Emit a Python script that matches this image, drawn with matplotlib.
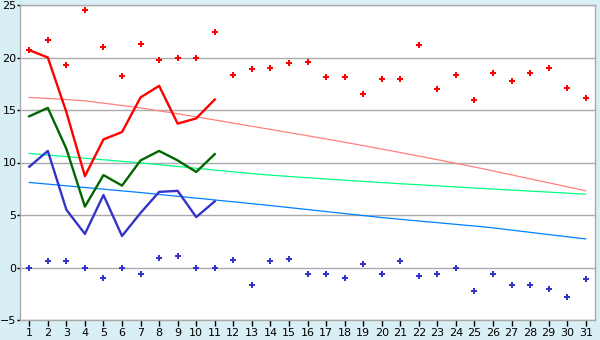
import matplotlib
matplotlib.use('Agg')
import matplotlib.pyplot as plt

days = list(range(1, 32))

# daily max / min (points)
max_points = [20.7, 21.7, 19.3, 24.5, 21.0, 18.2, 21.3, 19.8, 20.0, 20.0,
              22.4, 18.3, 18.9, 19.0, 19.5, 19.6, 18.1, 18.1, 16.5, 18.0,
              18.0, 21.2, 17.0, 18.3, 16.0, 18.5, 17.8, 18.5, 19.0, 17.1, 16.1]
min_points = [0.0, 0.6, 0.6, 0.0, -1.0, 0.0, -0.6, 0.9, 1.1, 0.0,
              0.0, 0.7, -1.7, 0.6, 0.8, -0.6, -0.6, -1.0, 0.3, -0.6,
              0.6, -0.8, -0.6, 0.0, -2.2, -0.6, -1.7, -1.7, -2.0, -2.8, -1.1]

# measured lines, first 11 days
line_days = list(range(1, 12))
max_line = [20.7, 20.0, 14.8, 8.7, 12.2, 12.9, 16.2, 17.3, 13.7, 14.2, 16.0]
mean_line = [14.4, 15.2, 11.3, 5.8, 8.8, 7.8, 10.2, 11.1, 10.2, 9.1, 10.8]
min_line = [9.6, 11.1, 5.5, 3.2, 6.9, 3.0, 5.2, 7.2, 7.3, 4.8, 6.3]

# normals
norm_max = [16.2, 16.1, 16.0, 15.87, 15.65, 15.43, 15.2, 14.92, 14.64, 14.35,
            14.05, 13.75, 13.45, 13.15, 12.85, 12.55, 12.24, 11.93, 11.61, 11.28,
            10.95, 10.61, 10.27, 9.92, 9.57, 9.2, 8.82, 8.44, 8.07, 7.69, 7.3]
norm_mean = [10.86, 10.71, 10.56, 10.41, 10.26, 10.11, 9.96, 9.79, 9.62, 9.45,
             9.28, 9.11, 8.94, 8.8, 8.67, 8.55, 8.43, 8.31, 8.2, 8.09,
             7.98, 7.88, 7.78, 7.67, 7.57, 7.47, 7.37, 7.28, 7.18, 7.08, 6.98]
norm_min = [8.1, 7.94, 7.78, 7.62, 7.46, 7.3, 7.14, 6.96, 6.78, 6.61,
            6.43, 6.26, 6.08, 5.9, 5.71, 5.52, 5.33, 5.14, 4.95, 4.76,
            4.59, 4.43, 4.27, 4.11, 3.95, 3.78, 3.56, 3.35, 3.14, 2.93, 2.72]

fig = plt.figure(figsize=(6, 3.4), dpi=100, facecolor='#d9eff6')
ax = fig.add_axes([20 / 600, 20 / 340, 575 / 600, 315 / 340])
ax.set_facecolor('white')

ax.set_xlim(0.5, 31.5)
ax.set_ylim(-5, 25)
ax.set_yticks(range(-5, 26, 5))
ax.set_xticks(days)
ax.grid(axis='y', color='#aaaaaa', linewidth=1)
ax.set_axisbelow(True)

for s in ax.spines.values():
    s.set_color('#aaaaaa')
    s.set_linewidth(1)

ax.tick_params(axis='x', labelsize=8, colors='#000000', length=4, width=1, pad=2)
ax.tick_params(axis='y', labelsize=8, colors='#000000', length=2, width=1, pad=0.5)

# normals
ax.plot(days, norm_max, color='#ff8080', linewidth=0.9)
ax.plot(days, norm_mean, color='#00ff80', linewidth=0.9)
ax.plot(days, norm_min, color='#0080ff', linewidth=0.9)

# measured lines
ax.plot(line_days, max_line, color='#ff0000', linewidth=1.7)
ax.plot(line_days, mean_line, color='#006600', linewidth=1.7)
ax.plot(line_days, min_line, color='#3333cc', linewidth=1.7)

# points
ax.plot(days, max_points, linestyle='none', marker='P', markersize=5,
        color='#ff0000', markeredgewidth=0)
ax.plot(days, min_points, linestyle='none', marker='P', markersize=5,
        color='#3333cc', markeredgewidth=0)

fig.savefig('out.png', dpi=100, facecolor=fig.get_facecolor())
